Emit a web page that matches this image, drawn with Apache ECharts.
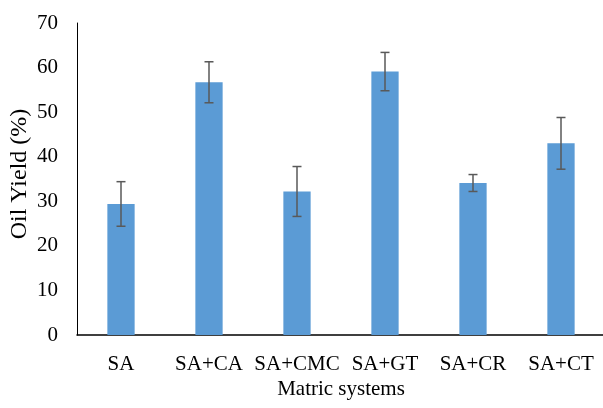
<!DOCTYPE html>
<html><head><meta charset="utf-8">
<script src="https://cdn.jsdelivr.net/npm/echarts@6/dist/echarts.min.js"></script>
<style>html,body{margin:0;padding:0;background:#fff}#c{width:603px;height:408px}</style>
</head><body><div id="c"></div>
<script>
const categories = ['SA','SA+CA','SA+CMC','SA+GT','SA+CR','SA+CT'];
const oilYield = [29.4, 56.7, 32.2, 59.1, 34.1, 43.0];
const errors = [5.0, 4.6, 5.6, 4.3, 1.9, 5.8];
const yTicks = [0,10,20,30,40,50,60,70];

const font = 'Liberation Serif';
const chart = echarts.init(document.getElementById('c'));
chart.setOption({
  animation:false,
  grid:{left:77, width:528, top:23, bottom:73, outerBoundsMode:'none', containLabel:false},
  xAxis:{type:'category', data:categories, name:'Matric systems', nameLocation:'middle', nameGap:44,
    nameMoveOverlap:false,
    nameTextStyle:{fontFamily:font,fontSize:21,color:'#000'},
    axisLine:{lineStyle:{color:'#000',width:1.5}}, axisTick:{show:false},
    axisLabel:{fontFamily:font,fontSize:21,color:'#000',margin:19,interval:0}},
  yAxis:{type:'value', min:0, max:70, interval:10, name:'Oil Yield (%)', nameLocation:'middle', nameGap:45,
    nameMoveOverlap:false,
    nameTextStyle:{fontFamily:font,fontSize:24,color:'#000',padding:[0,0,0,10]},
    axisLine:{show:true,lineStyle:{color:'#000',width:1}}, axisTick:{show:false}, splitLine:{show:false},
    axisLabel:{fontFamily:font,fontSize:21,color:'#000',margin:19}},
  series:[
    {type:'bar', data:oilYield, barWidth:'31%', itemStyle:{color:'#5B9BD5'}},
    {type:'custom', data:oilYield.map((v,i)=>[i, v-errors[i], v+errors[i]]), z:10,
      renderItem:(params, api)=>{
        const lo = api.coord([api.value(0), api.value(1)]);
        const hi = api.coord([api.value(0), api.value(2)]);
        const hw = 4.5;
        const st = {stroke:'#595959', lineWidth:1.5};
        return {type:'group', children:[
          {type:'line', shape:{x1:hi[0],y1:hi[1],x2:lo[0],y2:lo[1]}, style:st},
          {type:'line', shape:{x1:hi[0]-hw,y1:hi[1],x2:hi[0]+hw,y2:hi[1]}, style:st},
          {type:'line', shape:{x1:lo[0]-hw,y1:lo[1],x2:lo[0]+hw,y2:lo[1]}, style:st}
        ]};
      }}
  ]
});
</script></body></html>
